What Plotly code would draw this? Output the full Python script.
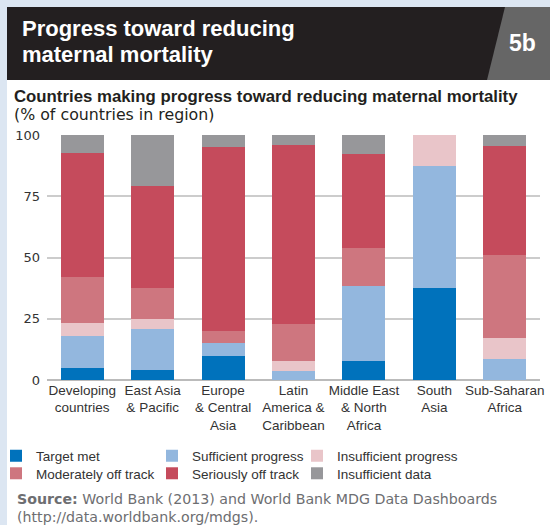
import plotly.graph_objects as go

# ---------------- data ----------------
categories = [
    "Developing<br>countries",
    "East Asia<br>& Pacific",
    "Europe<br>& Central<br>Asia",
    "Latin<br>America &<br>Caribbean",
    "Middle East<br>& North<br>Africa",
    "South<br>Asia",
    "Sub-Saharan<br>Africa",
]
target_met = [4.9, 4.2, 10.0, 0.0, 7.7, 37.5, 0.0]
sufficient_progress = [13.1, 16.7, 5.0, 3.8, 30.8, 50.0, 8.5]
insufficient_progress = [5.1, 4.2, 0.0, 3.8, 0.0, 12.5, 8.5]
moderately_off_track = [18.9, 12.5, 5.0, 15.4, 15.4, 0.0, 34.0]
seriously_off_track = [50.6, 41.7, 75.0, 73.1, 38.5, 0.0, 44.7]
insufficient_data = [7.4, 20.8, 5.0, 3.8, 7.7, 0.0, 4.3]

series_names = ["Target met", "Sufficient progress", "Insufficient progress",
                "Moderately off track", "Seriously off track", "Insufficient data"]
series_values = [target_met, sufficient_progress, insufficient_progress,
                 moderately_off_track, seriously_off_track, insufficient_data]
series_colors = ["#0072BC", "#93B7DE", "#E9C5C9", "#CE767F", "#C54B5C", "#97979A"]

y_ticks = [0, 25, 50, 75, 100]

# ---------------- layout geometry (pixels) ----------------
W, H = 550, 525
L, R, T, B = 47, 10, 135, 145
PW, PH = W - L - R, H - T - B


def fx(px):
    return (px - L) / PW


def fy(py):
    return (H - B - py) / PH


# legend layout: first three series in row 1, last three in row 2
legend_ids = ["legend", "legend", "legend", "legend2", "legend2", "legend2"]
legend_widths = [111, 100, 125, 111, 100, 125]

fig = go.Figure()
for name, vals, col, lg, lw in zip(series_names, series_values, series_colors,
                                   legend_ids, legend_widths):
    fig.add_trace(go.Bar(
        x=categories, y=vals, name=name, legend=lg, legendwidth=lw,
        marker=dict(color=col, line=dict(width=0)),
    ))

LAB = "Liberation Sans, Arial, sans-serif"
WIDE = "DejaVu Sans, sans-serif"
legend_font = dict(family=LAB, size=13.5, color="#333333")

fig.update_layout(
    width=W, height=H,
    barmode="stack",
    bargap=0.39,
    paper_bgcolor="#DCE6F2",
    plot_bgcolor="rgba(0,0,0,0)",
    margin=dict(l=L, r=R, t=T, b=B, autoexpand=False),
    showlegend=True,
    legend=dict(
        orientation="h", traceorder="normal",
        x=fx(-4), xanchor="left", y=fy(440.5), yanchor="top",
        font=legend_font, bgcolor="rgba(0,0,0,0)",
    ),
    legend2=dict(
        orientation="h", traceorder="normal",
        x=fx(-4), xanchor="left", y=fy(458), yanchor="top",
        font=legend_font, bgcolor="rgba(0,0,0,0)",
    ),
    xaxis=dict(
        showgrid=False, showline=False, ticks="", zeroline=False,
        tickfont=dict(family=LAB, size=13.5, color="#333333"),
        tickangle=0,
    ),
    yaxis=dict(
        range=[0, 100], tickvals=y_ticks, ticktext=[str(v) for v in y_ticks],
        showgrid=True, gridcolor="#CCCCCC", gridwidth=1.6,
        zeroline=True, zerolinecolor="#BBBBBB", zerolinewidth=1.6,
        showline=False, ticks="",
        tickfont=dict(family=WIDE, size=13, color="#333333"),
        ticklabelstandoff=6,
    ),
    shapes=[
        dict(type="rect", xref="paper", yref="paper", x0=fx(7), x1=fx(W + 5), y0=fy(7), y1=fy(H + 5),
             fillcolor="white", line=dict(width=0), layer="below"),
        dict(type="rect", xref="paper", yref="paper", x0=fx(7), x1=fx(W + 5), y0=fy(7), y1=fy(80),
             fillcolor="#231F20", line=dict(width=0), layer="below"),
        dict(type="path", xref="paper", yref="paper",
             path=f"M {fx(505)} {fy(7)} L {fx(W + 5)} {fy(7)} L {fx(W + 5)} {fy(80)} L {fx(487)} {fy(80)} Z",
             fillcolor="#666666", line=dict(width=0), layer="below"),
    ],
    annotations=[
        dict(text="<b>Progress toward reducing</b>", xref="paper", yref="paper",
             x=fx(20), y=fy(28), xanchor="left", yanchor="middle", showarrow=False,
             font=dict(family=LAB, size=22, color="white")),
        dict(text="<b>maternal mortality</b>", xref="paper", yref="paper",
             x=fx(20), y=fy(54), xanchor="left", yanchor="middle", showarrow=False,
             font=dict(family=LAB, size=22, color="white")),
        dict(text="<b>5b</b>", xref="paper", yref="paper",
             x=fx(522), y=fy(43.5), xanchor="center", yanchor="middle", showarrow=False,
             font=dict(family=LAB, size=23, color="white")),
        dict(text="<b>Countries making progress toward reducing maternal mortality</b>",
             xref="paper", yref="paper", x=fx(12), y=fy(96), xanchor="left", yanchor="middle",
             showarrow=False, font=dict(family=LAB, size=16.8, color="#231F20")),
        dict(text="(% of countries in region)",
             xref="paper", yref="paper", x=fx(12), y=fy(114), xanchor="left", yanchor="middle",
             showarrow=False, font=dict(family=WIDE, size=15.8, color="#231F20")),
        dict(text="<b>Source:</b> World Bank (2013) and World Bank MDG Data Dashboards",
             xref="paper", yref="paper", x=fx(15), y=fy(499), xanchor="left", yanchor="middle",
             showarrow=False, font=dict(family=WIDE, size=14.2, color="#6D6E71")),
        dict(text="(http://data.worldbank.org/mdgs).",
             xref="paper", yref="paper", x=fx(15), y=fy(516.5), xanchor="left", yanchor="middle",
             showarrow=False, font=dict(family=WIDE, size=14.2, color="#6D6E71")),
    ],
)

fig.write_html("out.html", post_script="document.body.style.margin='0';",
               config={"displayModeBar": False})
